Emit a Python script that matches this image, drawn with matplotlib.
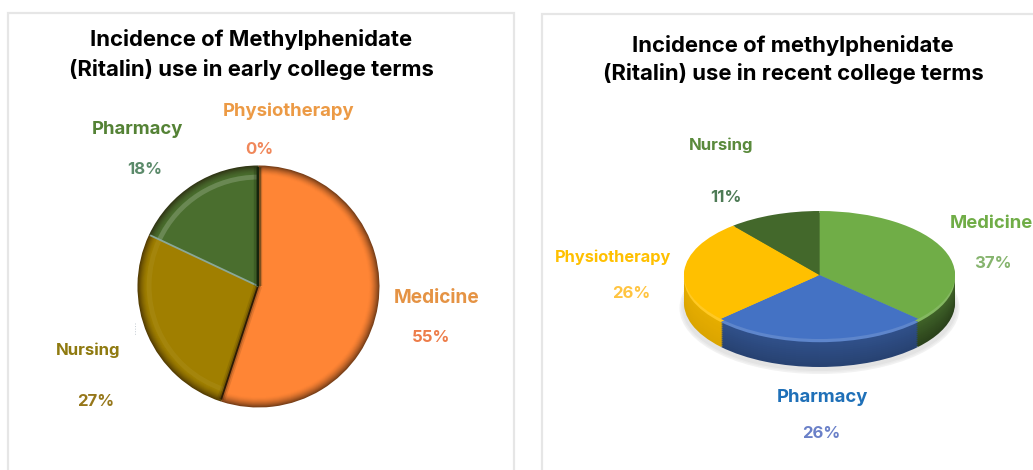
import matplotlib
matplotlib.use('Agg')
import matplotlib.pyplot as plt
import matplotlib.colors as mcolors
from matplotlib.patches import Rectangle, Ellipse
import numpy as np

plt.rcParams['font.family'] = ['Inter', 'DejaVu Sans']

W = 1033
H = 470

# left chart
early_title = ['Incidence of Methylphenidate', '(Ritalin) use in early college terms']
early_labels = ['Medicine', 'Nursing', 'Pharmacy', 'Physiotherapy']
early_values = [55, 27, 18, 0]
early_colors = ['#FF8535', '#A07F00', '#4A6E2E', '#ED7D31']
early_glow = [(1, 1, 1, 0.0), (1, 1, 1, 0.05), (1, 1, 1, 0.18), (1, 1, 1, 0.0)]

# right chart
recent_title = ['Incidence of methylphenidate', '(Ritalin) use in recent college terms']
recent_labels = ['Medicine', 'Pharmacy', 'Physiotherapy', 'Nursing']
recent_values = [37, 26, 26, 11]
recent_colors = ['#70AD47', '#4472C4', '#FFC000', '#43682B']
recent_wall_shade = [0.62, 0.42, 0.14, 0.6]


def blend(c, other, t):
    a = np.array(mcolors.to_rgb(c))
    b = np.array(mcolors.to_rgb(other))
    return tuple(a * (1 - t) + b * t)


def pie_axes(cx, cy, rx, ry):
    # axes in which the unit circle lands on the given pixel ellipse
    pad = 1.4
    ax = fig.add_axes([(cx - rx * pad) / W, 1 - (cy + ry * pad) / H,
                       2 * rx * pad / W, 2 * ry * pad / H])
    return ax, pad


def finish_pie(ax, pad):
    ax.set_aspect('auto')
    ax.set_xlim(-pad, pad)
    ax.set_ylim(-pad, pad)
    ax.patch.set_alpha(0)
    ax.axis('off')


fig = plt.figure(figsize=(W / 100, H / 100), dpi=100, facecolor='white')

# page level axes in pixels, for frames and text
bg = fig.add_axes([0, 0, 1, 1])
bg.set_xlim(0, W)
bg.set_ylim(H, 0)
bg.axis('off')
bg.add_patch(Rectangle((8, 13), 506, 470, fc='white', ec='#e6e6e6', lw=1.6))
bg.add_patch(Rectangle((542, 14), 520, 470, fc='white', ec='#e6e6e6', lw=1.6))
bg.plot([135, 135], [323, 335], color='#c4ccd2', lw=0.7, ls=':')

# early terms pie, bevel made from smooth offset copies
ax1, pad1 = pie_axes(258, 286, 121, 121)
steps = 12
for i in range(steps):
    t = i / (steps - 1)
    r = 1.0 - 0.08 * t
    off = 0.004 * (1 - t)
    cols = [blend(c, '#201005', 0.6 * (1 - t) ** 1.6) for c in early_colors]
    wedges, _ = ax1.pie(early_values, colors=cols, startangle=90, counterclock=False,
                        radius=r, center=(off, -off), normalize=True)
ax1.pie(early_values, colors=early_glow, startangle=90, counterclock=False,
        radius=0.92, wedgeprops=dict(width=0.04), normalize=True)
finish_pie(ax1, pad1)

# slice borders, taken from the wedge angles of the last layer
edge_cols = ['#2c1a06', '#8aa898', '#16240c']
for w, ec in zip(wedges[:3], edge_cols):
    a = np.deg2rad(w.theta1)
    xs = [0, 0.985 * np.cos(a)]
    ys = [0, 0.985 * np.sin(a)]
    if ec != '#8aa898':
        ax1.plot(xs, ys, color=ec, lw=6, alpha=0.12, solid_capstyle='butt')
        ax1.plot(xs, ys, color=ec, lw=3.5, alpha=0.25, solid_capstyle='butt')
    ax1.plot(xs, ys, color=ec, lw=1.3, solid_capstyle='butt')
ax1.plot([0, 0], [0, 0.985], color='#16240c', lw=6, alpha=0.12, solid_capstyle='butt')
ax1.plot([0, 0], [0, 0.985], color='#16240c', lw=3.5, alpha=0.25, solid_capstyle='butt')
ax1.plot([0, 0], [0, 0.985], color='#16240c', lw=1.3, solid_capstyle='butt')

# recent terms pie, the side wall is a stack of shifted copies
ax2, pad2 = pie_axes(819.5, 275, 135.5, 64)
for grow, col in [(8, '#f2f2f2'), (5, '#ebebeb'), (2, '#e3e3e3')]:
    bg.add_patch(Ellipse((819.5, 308), 272 + grow, 124 + grow, fc=col, ec='none'))
depth = 28 / 64
steps = 14
for i in range(steps, 0, -1):
    t = i / steps
    cols = [blend(c, 'black', s * (0.65 + 0.35 * t))
            for c, s in zip(recent_colors, recent_wall_shade)]
    ax2.pie(recent_values, colors=cols, startangle=90, counterclock=False,
            center=(0, -depth * t), normalize=True)
ax2.pie(recent_values, colors=[blend(c, 'white', 0.14) for c in recent_colors],
        startangle=90, counterclock=False, center=(0, -0.05), normalize=True)
ax2.pie(recent_values, colors=recent_colors, startangle=90, counterclock=False,
        normalize=True)
finish_pie(ax2, pad2)

# titles
title_size = 15.9
for y, line in zip([40, 69], early_title):
    bg.text(251, y, line, fontsize=title_size, fontweight='bold', color='black',
            ha='center', va='center')
for y, line in zip([46, 74], recent_title):
    bg.text(793, y, line, fontsize=title_size, fontweight='bold', color='black',
            ha='center', va='center')


def label(x, y, s, color, size=13.3):
    bg.text(x, y, s, fontsize=size, fontweight='bold', color=color, ha='center', va='center')


# early terms labels
label(137, 129, early_labels[2], '#548235')
label(145, 169, '%d%%' % early_values[2], '#5B8A6A', 12)
label(289, 111, early_labels[3], '#EC9A45')
label(259, 149, '%d%%' % early_values[3], '#F0875A', 12)
label(437, 298, early_labels[0], '#E59344', 13.7)
label(431, 338, '%d%%' % early_values[0], '#ED7D4A', 12)
label(88, 350, early_labels[1], '#8F7A10', 12)
label(96, 402, '%d%%' % early_values[1], '#96771A', 12)

# recent terms labels
label(721, 145, recent_labels[3], '#5A8A3C', 12)
label(726, 198, '%d%%' % recent_values[3], '#4D7A55', 12)
label(991, 224, recent_labels[0], '#70AD47')
label(993, 263, '%d%%' % recent_values[0], '#86B46E', 12)
label(613, 257, recent_labels[2], '#FFC000', 11.8)
label(631, 293, '%d%%' % recent_values[2], '#FFC440', 12)
label(822, 398, recent_labels[1], '#1F70B8')
label(821, 434, '%d%%' % recent_values[1], '#6A80C8', 12)

fig.savefig('out.png', dpi=100)
